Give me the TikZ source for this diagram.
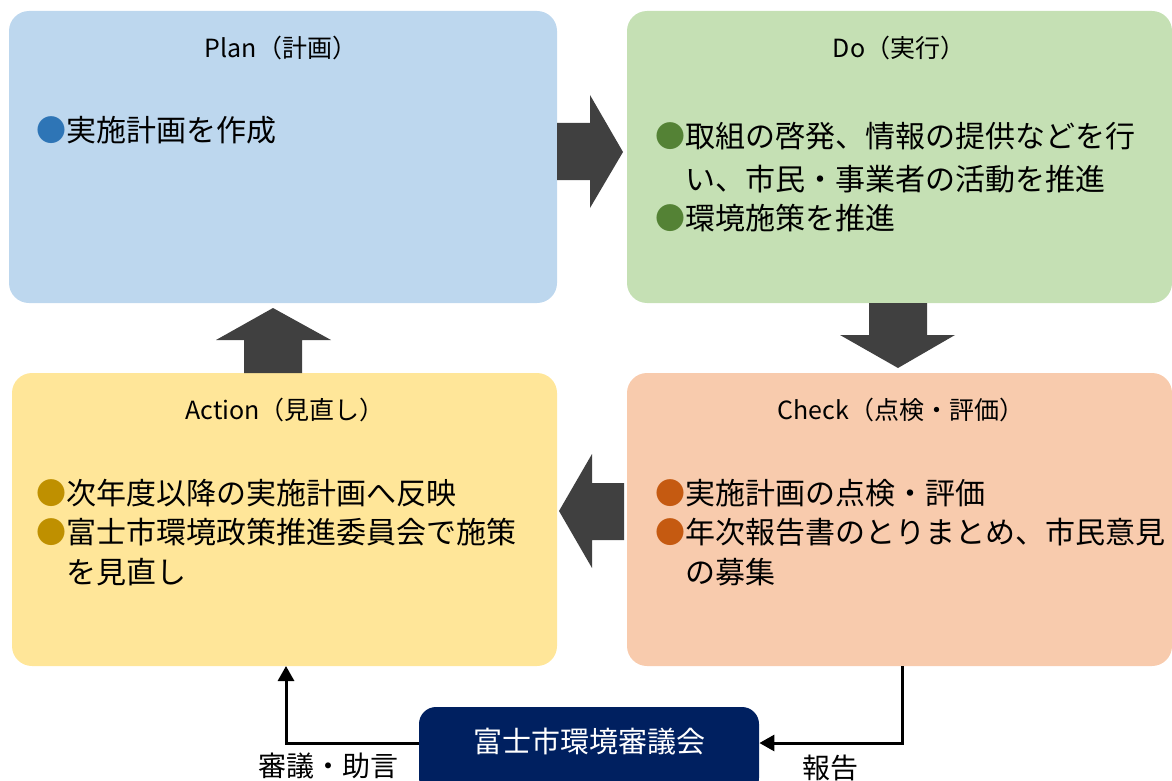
\documentclass[tikz,border=0pt]{standalone}
\usepackage{fontspec}
\setmainfont{Noto Sans CJK JP}
\usetikzlibrary{arrows.meta}
\definecolor{planfill}{HTML}{BDD7EE}
\definecolor{dofill}{HTML}{C5E0B4}
\definecolor{checkfill}{HTML}{F8CBAD}
\definecolor{actfill}{HTML}{FFE699}
\definecolor{navy}{HTML}{002060}
\definecolor{bigarrow}{HTML}{404040}
\definecolor{bplan}{HTML}{2E75B6}
\definecolor{bdo}{HTML}{548235}
\definecolor{bcheck}{HTML}{C55A11}
\definecolor{bact}{HTML}{BF9000}
\tikzset{
  box/.style={rectangle, rounded corners=10pt, draw=none, inner sep=0pt},
  ttl/.style={font=\fontsize{12.5}{15}\selectfont, inner sep=0pt},
  item/.style={font=\fontsize{15}{20}\selectfont, inner sep=0pt, anchor=base west},
  bigarr/.style={fill=bigarrow, draw=none},
  conn/.style={line width=1.5pt, -{Triangle[length=7.5pt,width=8pt]}},
  lbl/.style={font=\fontsize{14}{16}\selectfont, inner sep=0pt}
}
\begin{document}
\begin{tikzpicture}[x=0.5pt,y=-0.5pt]
\useasboundingbox (0,0) rectangle (1172,781);
\clip (0,0) rectangle (1172,781);
% boxes
\node[box, fill=planfill, minimum width=274pt, minimum height=146pt] (plan) at (283,157) {};
\node[box, fill=dofill, minimum width=272.5pt, minimum height=146pt] (do) at (899.5,157) {};
\node[box, fill=checkfill, minimum width=272.5pt, minimum height=146.5pt] (check) at (899.5,519.5) {};
\node[box, fill=actfill, minimum width=272.5pt, minimum height=146.5pt] (action) at (284.5,519.5) {};
% titles
\node[ttl] (planT) at (281,48) {Plan（計画）};
\node[ttl] (doT) at (899,48) {Do（実行）};
\node[ttl] (checkT) at (901,410) {Check（点検・評価）};
\node[ttl] (actT) at (285,410) {Action（見直し）};
% items
\node[item] (plan1) at (36,141) {\textcolor{bplan}{●}実施計画を作成};
\node[item] (do1a) at (655,148) {\textcolor{bdo}{●}取組の啓発、情報の提供などを行};
\node[item] (do1b) at (685,191) {い、市民・事業者の活動を推進};
\node[item] (do2) at (655,229) {\textcolor{bdo}{●}環境施策を推進};
\node[item] (ch1) at (655,504) {\textcolor{bcheck}{●}実施計画の点検・評価};
\node[item] (ch2a) at (655,543) {\textcolor{bcheck}{●}年次報告書のとりまとめ、市民意見};
\node[item] (ch2b) at (685,583) {の募集};
\node[item] (ac1) at (36,504) {\textcolor{bact}{●}次年度以降の実施計画へ反映};
\node[item] (ac2a) at (36,543) {\textcolor{bact}{●}富士市環境政策推進委員会で施策};
\node[item] (ac2b) at (66,583) {を見直し};
% big arrows
\path[bigarr] (557,123) -- (590,123) -- (590,95) -- (623,152) -- (590,208) -- (590,180) -- (557,180) -- cycle;
\path[bigarr] (869,303) -- (927,303) -- (927,335) -- (955,335) -- (898,368) -- (840,335) -- (869,335) -- cycle;
\path[bigarr] (624,483) -- (592,483) -- (592,454) -- (559,511) -- (592,568) -- (592,540) -- (624,540) -- cycle;
\path[bigarr] (244,373) -- (244,340) -- (216,340) -- (273,308) -- (331,340) -- (302,340) -- (302,373) -- cycle;
% council
\node[box, rounded corners=8.5pt, fill=navy, minimum width=170pt, minimum height=44pt] (council) at (589,751) {};
\node[font=\fontsize{14.5}{16}\selectfont, text=white, inner sep=0pt] (councilT) at (589,742) {富士市環境審議会};
% connectors
\coordinate (aIn) at (286,666);
\coordinate (cOut) at (902,666);
\draw[conn] ([yshift=4pt]council.west) -| (aIn);
\draw[conn] (cOut) |- ([yshift=4pt]council.east);
\node[lbl] (lblL) at (328,766) {審議・助言};
\node[lbl] (lblR) at (830,768) {報告};
\end{tikzpicture}
\end{document}
